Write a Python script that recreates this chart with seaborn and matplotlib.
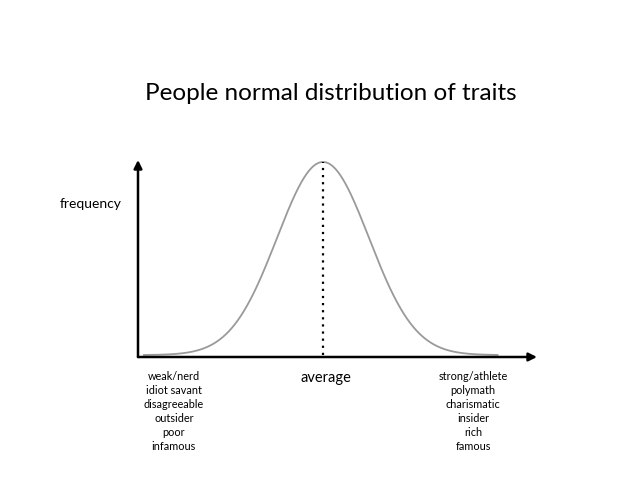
import numpy as np
import pandas as pd
import matplotlib
matplotlib.use("Agg")
import matplotlib.pyplot as plt
import seaborn as sns

# ---- data ----
title = "People normal distribution of traits"
y_label = "frequency"
center_label = "average"
left_traits = ["weak/nerd", "idiot savant", "disagreeable", "outsider", "poor", "infamous"]
right_traits = ["strong/athlete", "polymath", "charismatic", "insider", "rich", "famous"]
mean = 0.0
sd = 1.0
x_span = (-3.9, 3.8)

sns.set_theme(style="white")
plt.rcParams['font.family'] = ['Lato', 'DejaVu Sans']

xs = np.linspace(x_span[0], x_span[1], 600)
ys = np.exp(-0.5 * ((xs - mean) / sd) ** 2) / (sd * np.sqrt(2 * np.pi))
df = pd.DataFrame({"x": xs, "y": ys})

W, H = 640, 479
fig = plt.figure(figsize=(W / 100, H / 100), dpi=100)
fig.patch.set_facecolor("white")
ax = fig.add_axes([138 / W, (H - 357) / H, (537 - 138) / W, (357 - 160) / H])
ax.set_facecolor("white")

sns.lineplot(data=df, x="x", y="y", ax=ax, color="#9a9a9a", linewidth=1.3)
peak = ys.max()
ax.plot([mean, mean], [0.0, peak], color="black", linestyle=(0, (1, 2.2)), linewidth=1.6)

ax.set_xlim((138 - 323) / 46, (537 - 323) / 46)
ax.set_ylim(-0.004, 0.403)
for s in ax.spines.values():
    s.set_visible(False)
ax.set_xticks([])
ax.set_yticks([])
ax.set_xlabel("")
ax.set_ylabel("")

# axis arrows
ax.annotate("", xy=(1.0, 0), xytext=(0, 0), xycoords="axes fraction",
            arrowprops=dict(arrowstyle="-|>", color="black", lw=1.8, mutation_scale=12,
                            shrinkA=0, shrinkB=0))
ax.annotate("", xy=(0, 1.0), xytext=(0, 0), xycoords="axes fraction",
            arrowprops=dict(arrowstyle="-|>", color="black", lw=1.8, mutation_scale=12,
                            shrinkA=0, shrinkB=0))

def fx(px):
    return px / W

def fy(py):
    return 1 - py / H

fig.text(fx(331), fy(93), title, ha="center", va="center", fontsize=17.5, color="black")
fig.text(fx(91), fy(204), y_label, ha="center", va="center", fontsize=10, color="black")
fig.text(fx(326), fy(378), center_label, ha="center", va="center", fontsize=10.5, color="black")

for i, t in enumerate(left_traits):
    fig.text(fx(174), fy(376 + i * 14.2), t, ha="center", va="center", fontsize=7.8, color="black")
for i, t in enumerate(right_traits):
    fig.text(fx(473), fy(376 + i * 14.2), t, ha="center", va="center", fontsize=7.8, color="black")

fig.savefig("out.png", dpi=100, facecolor="white")
